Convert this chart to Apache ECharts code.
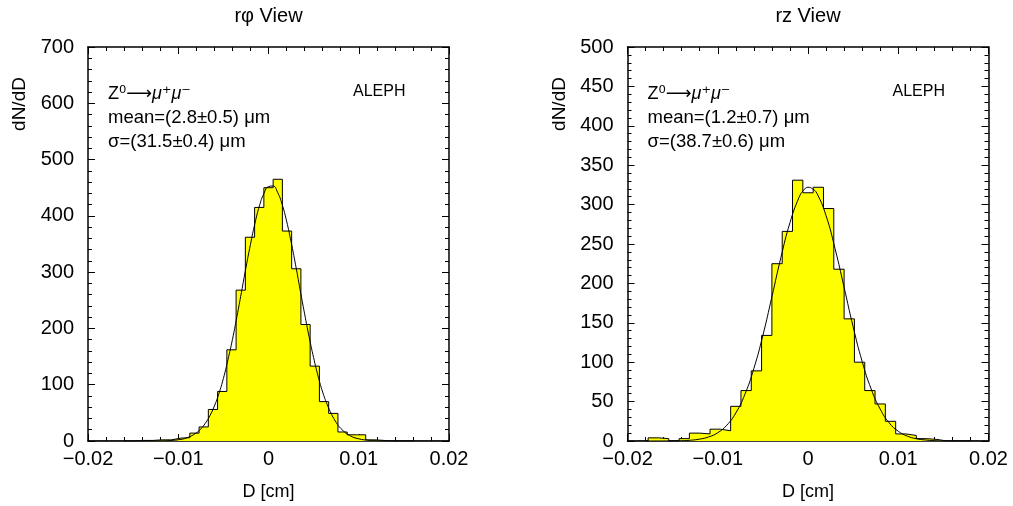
<!DOCTYPE html>
<html><head><meta charset="utf-8">
<script src="https://cdn.jsdelivr.net/npm/echarts@6/dist/echarts.min.js"></script>
<style>html,body{margin:0;padding:0;background:#fff}#c{width:1013px;height:506px}</style>
</head><body><div id="c"></div>
<script>
// ---- data ----
const xRange = [-0.02, 0.02];
const xTickStep = 0.01;
const xTickLabels = ['\u22120.02', '\u22120.01', '0', '0.01', '0.02'];

// r-phi view: 39 bins over [-0.02, 0.02]
const leftBinCount = 39;
const leftCounts = [0,0,0,0,0, 1,1,2,2,5,6,14,25,56,88,162,268,362,415,450,465,373,306,207,133,70,49,16,11,11,2,1, 0,0,0,0,0,0,0];
// rz view: 35 bins over [-0.02, 0.02]
const rightBinCount = 35;
const rightCounts = [0,0,4,3,0,3,10,9,15,13,44,64,89,134,225,266,331,315,322,295,218,155,100,64,47,25,9,7,3,2,0,0,0,0,0];

// fitted curves
const leftCurveX = [-0.016,-0.014,-0.012,-0.011,-0.010,-0.009,-0.008,-0.0075,-0.007,-0.0065,-0.006,-0.0055,-0.005,-0.0045,-0.004,-0.0035,-0.003,-0.0025,-0.002,-0.0015,-0.001,-0.0005,0,0.0005,0.001,0.0015,0.002,0.0025,0.003,0.0035,0.004,0.0045,0.005,0.0055,0.006,0.0065,0.007,0.0075,0.008,0.009,0.010,0.011,0.012,0.014,0.016];
const leftCurveY = [0,0.1,0.4,0.8,2.2,5.9,14.4,21.5,31.5,44.8,62,84,111,144,180,221,264,308,349,387,418,440,452,453,442,421,391,354,313,269,226,185,148,115,87,65,47,33,22.5,9.8,3.9,1.4,0.5,0.05,0];
const rightCurveX = [-0.018,-0.016,-0.014,-0.013,-0.012,-0.011,-0.010,-0.009,-0.008,-0.007,-0.006,-0.005,-0.004,-0.003,-0.002,-0.001,-0.0005,0,0.0005,0.001,0.002,0.003,0.004,0.005,0.006,0.007,0.008,0.009,0.010,0.011,0.012,0.013,0.014,0.016,0.018];
const rightCurveY = [0,0.05,0.4,1.0,2.4,5.2,10.5,20,35.6,59,92,134,183,233,277,309,318,322,320,314,286,244,195,145,101,66,40.5,23,12.4,6.2,2.9,1.3,0.5,0.05,0];

const leftYMax = 700, leftYStep = 100;
const rightYMax = 500, rightYStep = 50;

const titles = ['r\u03c6 View', 'rz View'];
const xName = 'D [cm]';
const yName = 'dN/dD';
const leftStats = ['mean=(2.8\u00b10.5) \u03bcm', '\u03c3=(31.5\u00b10.4) \u03bcm'];
const rightStats = ['mean=(1.2\u00b10.7) \u03bcm', '\u03c3=(38.7\u00b10.6) \u03bcm'];
const experiment = 'ALEPH';

// ---- chart ----
const FF = "'Liberation Sans', 'DejaVu Sans', sans-serif";
const grids = [
  {left: 88, top: 47, width: 361, height: 394},
  {left: 627.5, top: 47, width: 361, height: 394}
];

function histPoints(counts, n) {
  const w = (xRange[1] - xRange[0]) / n;
  const pts = counts.map((c, i) => [xRange[0] + i * w, c]);
  pts.push([xRange[1], counts[n - 1]]);
  return pts;
}
function zip(xs, ys) { return xs.map((x, i) => [x, ys[i]]); }

function xLabel(v) {
  const idx = Math.round((v - xRange[0]) / xTickStep);
  return xTickLabels[idx] !== undefined ? xTickLabels[idx] : '';
}

function xAxes(g) {
  const base = {
    gridIndex: g, type: 'value', min: xRange[0], max: xRange[1], interval: xTickStep,
    axisLine: {show: true, onZero: false, lineStyle: {color: '#000', width: 1.5}},
    axisTick: {show: true, inside: true, length: 7, lineStyle: {color: '#000', width: 1}},
    minorTick: {show: true, splitNumber: 5, length: 4, lineStyle: {color: '#000', width: 1}},
    splitLine: {show: false}
  };
  return [
    Object.assign({}, base, {position: 'bottom',
      axisLabel: {show: true, color: '#000', fontSize: 20, fontFamily: FF, margin: 8, formatter: xLabel}}),
    Object.assign({}, base, {position: 'top', axisLabel: {show: false}})
  ];
}
function yAxes(g, max, step) {
  const base = {
    gridIndex: g, type: 'value', min: 0, max: max, interval: step,
    axisLine: {show: true, onZero: false, lineStyle: {color: '#000', width: 1.5}},
    axisTick: {show: true, inside: true, length: 7, lineStyle: {color: '#000', width: 1}},
    minorTick: {show: true, splitNumber: 5, length: 4, lineStyle: {color: '#000', width: 1}},
    splitLine: {show: false}
  };
  return [
    Object.assign({}, base, {position: 'left',
      axisLabel: {show: true, color: '#000', fontSize: 20, fontFamily: FF, margin: 14}}),
    Object.assign({}, base, {position: 'right', axisLabel: {show: false}})
  ];
}

function histSeries(xi, yi, counts, n) {
  return {type: 'line', xAxisIndex: xi, yAxisIndex: yi, step: 'end', data: histPoints(counts, n),
    symbol: 'none', lineStyle: {color: '#000', width: 1},
    areaStyle: {color: '#ffff00', opacity: 1}, z: 2, silent: true};
}
function curveSeries(xi, yi, xs, ys) {
  return {type: 'line', xAxisIndex: xi, yAxisIndex: yi, smooth: true, data: zip(xs, ys),
    symbol: 'none', lineStyle: {color: '#000', width: 1}, z: 3, silent: true};
}

function text(x, y, t, size, opt) {
  opt = opt || {};
  const st = {text: t, fontSize: size, fontFamily: FF, fill: '#000',
    align: opt.align || 'left', textAlign: opt.align || 'left',
    verticalAlign: 'middle', textVerticalAlign: 'middle'};
  if (opt.rich) st.rich = opt.rich;
  return {type: 'text', x: x, y: y, rotation: opt.rot || 0, style: st, silent: true};
}

const richZ = {i: {fontStyle: 'italic', fontSize: 18, fontFamily: FF, fill: '#000'}};
const zLine = 'Z\u2070\u27f6{i|\u03bc\u207a\u03bc\u207b}';

const graphics = [];
[[0, leftStats], [1, rightStats]].forEach(([g, stats]) => {
  const L = grids[g].left, cx = L + grids[g].width / 2;
  graphics.push(text(cx, 16, titles[g], 20, {align: 'center'}));
  graphics.push(text(cx, 492, xName, 18, {align: 'center'}));
  graphics.push(text(L - 68, 104, yName, 19, {align: 'center', rot: Math.PI / 2}));
  graphics.push(text(L + 20, 94, zLine, 18, {rich: richZ}));
  graphics.push(text(L + 20, 118, stats[0], 18.5));
  graphics.push(text(L + 20, 142, stats[1], 18.5));
  graphics.push(text(L + 265, 92, experiment, 16));
});

const option = {
  animation: false,
  backgroundColor: '#fff',
  grid: grids,
  xAxis: [].concat(xAxes(0), xAxes(1)),
  yAxis: [].concat(yAxes(0, leftYMax, leftYStep), yAxes(1, rightYMax, rightYStep)),
  series: [
    histSeries(0, 0, leftCounts, leftBinCount),
    curveSeries(0, 0, leftCurveX, leftCurveY),
    histSeries(2, 2, rightCounts, rightBinCount),
    curveSeries(2, 2, rightCurveX, rightCurveY)
  ],
  graphic: graphics
};
const chart = echarts.init(document.getElementById('c'), null, {renderer: 'canvas'});
chart.setOption(option);
</script></body></html>
